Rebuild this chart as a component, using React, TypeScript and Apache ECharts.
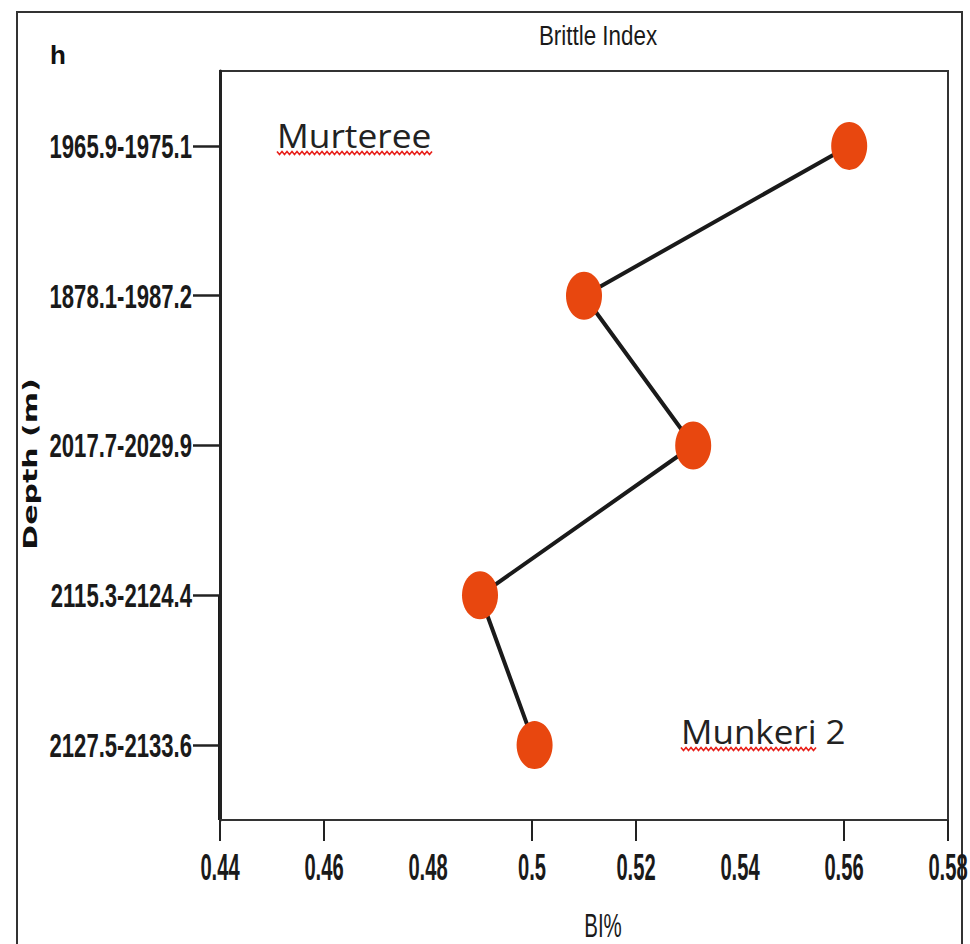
import React, { useEffect, useRef } from "react";
import * as echarts from "echarts";

const depthIntervals = [
  "1965.9-1975.1",
  "1878.1-1987.2",
  "2017.7-2029.9",
  "2115.3-2124.4",
  "2127.5-2133.6",
];
const brittleIndex = [0.561, 0.51, 0.531, 0.49, 0.5005];
const xTickLabels = [0.44, 0.46, 0.48, 0.5, 0.52, 0.54, 0.56, 0.58];
const xTickValues = [0.44, 0.46, 0.5, 0.52, 0.56, 0.58];

const LAB_FONT = "'Liberation Sans', Arial, sans-serif";

function wave(x0: number, x1: number, y: number) {
  const pts: number[][] = [];
  let up = true;
  for (let x = x0; x <= x1; x += 2.5) {
    pts.push([x, y + (up ? -1.5 : 1.5)]);
    up = !up;
  }
  return pts;
}

export default function App() {
  const ref = useRef<HTMLDivElement>(null);
  useEffect(() => {
    if (!ref.current) return;
    const chart = echarts.init(ref.current, null, { renderer: "svg" });
    chart.setOption({
      animation: false,
      backgroundColor: "#ffffff",
      grid: {
        left: 220,
        right: 22,
        top: 71,
        bottom: 124,
        show: true,
        borderColor: "#333",
        borderWidth: 2,
        backgroundColor: "transparent",
      },
      xAxis: {
        type: "value",
        min: 0.44,
        max: 0.58,
        interval: 0.02,
        splitLine: { show: false },
        axisLine: { show: true, lineStyle: { color: "#333", width: 2 } },
        axisTick: {
          show: true,
          length: 21,
          lineStyle: { color: "#222", width: 2 },
          customValues: xTickValues,
        },
        axisLabel: { show: false },
      },
      yAxis: {
        type: "category",
        data: depthIntervals,
        inverse: true,
        boundaryGap: true,
        axisLine: { show: true, lineStyle: { color: "#222", width: 3 } },
        axisTick: {
          show: true,
          alignWithLabel: true,
          length: 27,
          lineStyle: { color: "#222", width: 2.5 },
        },
        axisLabel: { show: false },
        splitLine: { show: false },
      },
      series: [
        {
          type: "line",
          data: brittleIndex.map((v, i) => [v, depthIntervals[i]]),
          symbol: "circle",
          symbolSize: [36, 48],
          itemStyle: { color: "#E8470F" },
          lineStyle: { color: "#1a1a1a", width: 4 },
          z: 3,
        },
      ],
    });

    // condensed tick labels placed through the axes' own scales
    const axisLeftX = chart.convertToPixel({ xAxisIndex: 0 }, 0.44) as number;
    const yTop = chart.convertToPixel({ yAxisIndex: 0 }, depthIntervals[0]) as number;
    const yBottomAxis = 944 - 124;

    const yLabelGraphics = depthIntervals.map((c) => ({
      type: "text",
      x: axisLeftX - 28,
      y: chart.convertToPixel({ yAxisIndex: 0 }, c) as number,
      scaleX: 0.65,
      style: {
        text: c,
        fontSize: 34,
        fontWeight: "bold",
        fontFamily: LAB_FONT,
        fill: "#1a1a1a",
        align: "right",
        verticalAlign: "middle",
      },
    }));
    const xLabelGraphics = xTickLabels.map((v) => ({
      type: "text",
      x: chart.convertToPixel({ xAxisIndex: 0 }, v) as number,
      y: yBottomAxis + 48,
      scaleX: 0.56,
      style: {
        text: String(v),
        fontSize: 36,
        fontWeight: "bold",
        fontFamily: LAB_FONT,
        fill: "#1a1a1a",
        align: "center",
        verticalAlign: "middle",
      },
    }));

    chart.setOption({
      graphic: [
        {
          type: "rect",
          shape: { x: 17, y: 12, width: 945, height: 1000 },
          style: { fill: "none", stroke: "#333", lineWidth: 2 },
          silent: true,
        },
        {
          type: "line",
          shape: { x1: axisLeftX, y1: yTop + 450, x2: axisLeftX, y2: yBottomAxis },
          style: { stroke: "#1a1a1a", lineWidth: 4 },
          silent: true,
        },
        ...yLabelGraphics,
        ...xLabelGraphics,
        {
          type: "text",
          x: 50,
          y: 42,
          style: {
            text: "h",
            fontSize: 26,
            fontWeight: "bold",
            fontFamily: LAB_FONT,
            fill: "#111",
          },
        },
        {
          type: "text",
          x: 598,
          y: 35,
          scaleX: 0.8,
          style: {
            text: "Brittle Index",
            fontSize: 28,
            fontFamily: LAB_FONT,
            fill: "#1a1a1a",
            align: "center",
            verticalAlign: "middle",
          },
        },
        {
          type: "text",
          x: 603,
          y: 926,
          scaleX: 0.62,
          style: {
            text: "BI%",
            fontSize: 33,
            fontFamily: LAB_FONT,
            fill: "#1a1a1a",
            align: "center",
            verticalAlign: "middle",
          },
        },
        {
          type: "text",
          x: 30,
          y: 464,
          rotation: Math.PI / 2,
          scaleX: 1.5,
          style: {
            text: "Depth (m)",
            fontSize: 20,
            fontWeight: "bold",
            fontFamily: "'DejaVu Sans', sans-serif",
            fill: "#111",
            align: "center",
            verticalAlign: "middle",
          },
        },
        {
          type: "text",
          x: 277,
          y: 135,
          scaleX: 1.07,
          style: {
            text: "Murteree",
            fontSize: 33,
            fontFamily: "'Open Sans', sans-serif",
            fill: "#222",
            align: "left",
            verticalAlign: "middle",
          },
        },
        {
          type: "polyline",
          shape: { points: wave(277, 433, 153) },
          style: { stroke: "#e8201a", lineWidth: 1.6, fill: "none" },
          silent: true,
        },
        {
          type: "text",
          x: 681,
          y: 731,
          scaleX: 1.06,
          style: {
            text: "Munkeri 2",
            fontSize: 33,
            fontFamily: "'Open Sans', sans-serif",
            fill: "#222",
            align: "left",
            verticalAlign: "middle",
          },
        },
        {
          type: "polyline",
          shape: { points: wave(681, 818, 749) },
          style: { stroke: "#e8201a", lineWidth: 1.6, fill: "none" },
          silent: true,
        },
      ],
    });
    return () => chart.dispose();
  }, []);
  return (
    <div
      ref={ref}
      style={{ position: "fixed", left: 0, top: 0, width: 970, height: 944 }}
    />
  );
}
